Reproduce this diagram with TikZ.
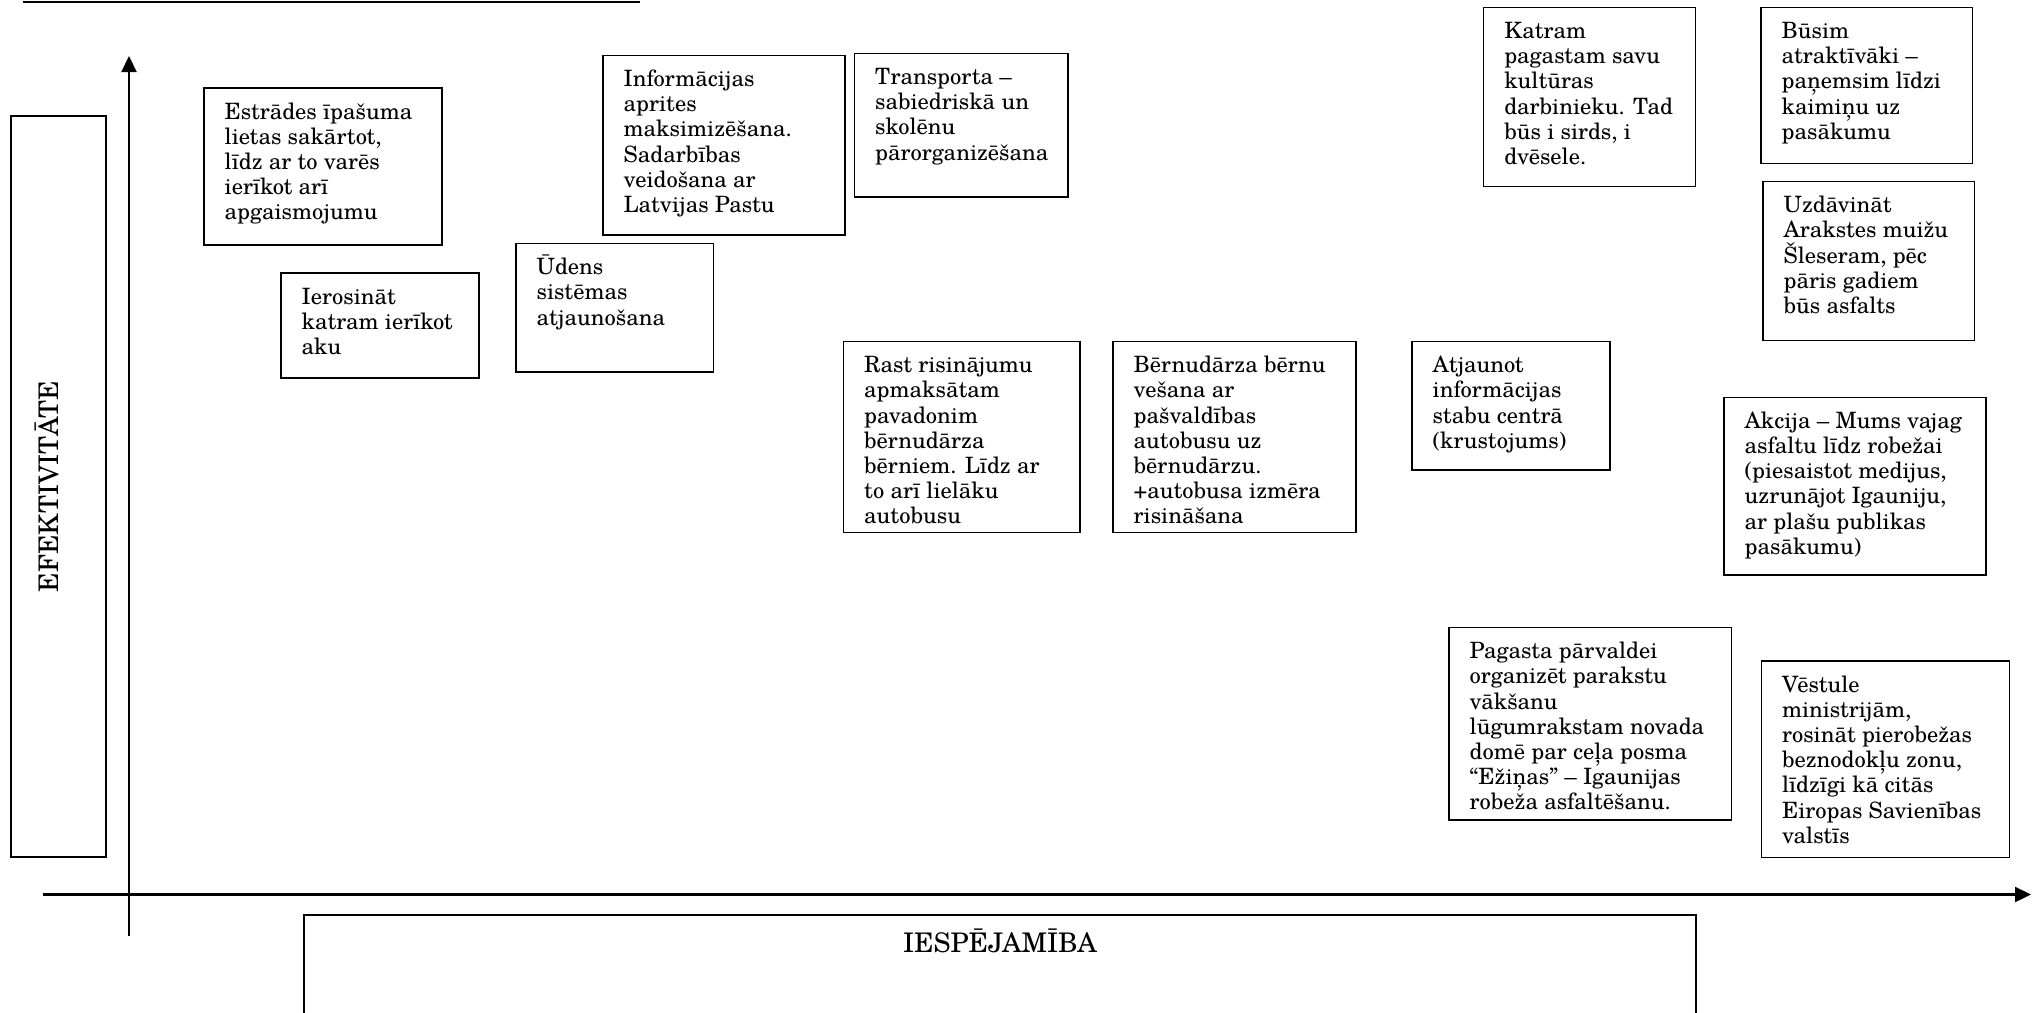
\documentclass[tikz,border=0pt]{standalone}
\usepackage{fontspec}
\setmainfont{TeX Gyre Schola}
\usetikzlibrary{arrows.meta}
\tikzset{
  boxst/.style={draw, line width=1.3pt, inner sep=0pt, outer sep=0pt, anchor=north west},
  txt/.style={anchor=base west, inner sep=0pt, font=\fontsize{22.5}{25.2}\selectfont},
  lbl/.style={anchor=base, inner sep=0pt, font=\fontsize{27}{30}\selectfont},
  axis/.style={line width=2.2pt, -{Triangle[length=16pt,width=15pt]}}
}
\newcommand{\lines}[1]{\parbox[t]{400pt}{\raggedright #1}}
\begin{document}
\begin{tikzpicture}[x=1pt,y=-1pt]
\useasboundingbox (0,0) rectangle (2033,1012);
\clip (0,0) rectangle (2033,1012);
% top underline (clipped heading)
\coordinate (tl) at (23,2.2);
\coordinate (tr) at (640,2.2);
\draw[line width=2.4pt] (tl) -- (tr);
% axes
\coordinate (yb) at (129,936);
\coordinate (yt) at (129,56);
\coordinate (xl) at (43,894.5);
\coordinate (xr) at (2031,894.5);
\draw[axis] (yb) -- (yt);
\draw[axis] (xl) -- (xr);
% axis label boxes
\node[boxst, minimum width=95pt, minimum height=741pt] (efek) at (11,116) {};
\node[lbl, rotate=90] (efekl) at (58,486.5) {EFEKTIVITĀTE};
\node[boxst, minimum width=1392pt, minimum height=140pt] (iesp) at (304,915) {};
\node[lbl] (iespl) at (1000,952) {IESPĒJAMĪBA};
% idea boxes
\node[boxst, minimum width=238pt, minimum height=157pt] (est) at (204,88) {};
\node[txt] (estt) at (224.5,119) {\lines{Estrādes īpašuma\\lietas sakārtot,\\līdz ar to varēs\\ierīkot arī\\apgaismojumu}};
\node[boxst, minimum width=198pt, minimum height=105pt] (ier) at (281,273) {};
\node[txt] (iert) at (301.5,304) {\lines{Ierosināt\\katram ierīkot\\aku}};
\node[boxst, minimum width=242pt, minimum height=179.5pt] (inf) at (603,55.5) {};
\node[txt] (inft) at (623.5,86.5) {\lines{Informācijas\\aprites\\maksimizēšana.\\Sadarbības\\veidošana ar\\Latvijas Pastu}};
\node[boxst, minimum width=197.5pt, minimum height=128.3pt] (ude) at (516,243.7) {};
\node[txt] (udet) at (536.5,274.7) {\lines{Ūdens\\sistēmas\\atjaunošana}};
\node[boxst, minimum width=213.5pt, minimum height=143.5pt] (tra) at (854.5,53.5) {};
\node[txt] (trat) at (875,84.5) {\lines{Transporta –\\sabiedriskā un\\skolēnu\\pārorganizēšana}};
\node[boxst, minimum width=212pt, minimum height=179.2pt] (kat) at (1483.6,7.5) {};
\node[txt] (katt) at (1504.1,38.5) {\lines{Katram\\pagastam savu\\kultūras\\darbinieku. Tad\\būs i sirds, i\\dvēsele.}};
\node[boxst, minimum width=211.5pt, minimum height=155.8pt] (bus) at (1761,7.5) {};
\node[txt] (bust) at (1781.5,38.5) {\lines{Būsim\\atraktīvāki –\\paņemsim līdzi\\kaimiņu uz\\pasākumu}};
\node[boxst, minimum width=211.5pt, minimum height=159pt] (uzd) at (1763,181.7) {};
\node[txt] (uzdt) at (1783.5,212.7) {\lines{Uzdāvināt\\Arakstes muižu\\Šleseram, pēc\\pāris gadiem\\būs asfalts}};
\node[boxst, minimum width=236.5pt, minimum height=191pt] (rast) at (843.5,341.7) {};
\node[txt] (rastt) at (864,372.7) {\lines{Rast risinājumu\\apmaksātam\\pavadonim\\bērnudārza\\bērniem. Līdz ar\\to arī lielāku\\autobusu}};
\node[boxst, minimum width=243pt, minimum height=191pt] (ber) at (1113,341.7) {};
\node[txt] (bert) at (1133.5,372.7) {\lines{Bērnudārza bērnu\\vešana ar\\pašvaldības\\autobusu uz\\bērnudārzu.\\+autobusa izmēra\\risināšana}};
\node[boxst, minimum width=198pt, minimum height=128.3pt] (atj) at (1412,341.7) {};
\node[txt] (atjt) at (1432.5,372.7) {\lines{Atjaunot\\informācijas\\stabu centrā\\(krustojums)}};
\node[boxst, minimum width=262pt, minimum height=177.7pt] (akc) at (1724,397.3) {};
\node[txt] (akct) at (1744.5,428.3) {\lines{Akcija – Mums vajag\\asfaltu līdz robežai\\(piesaistot medijus,\\uzrunājot Igauniju,\\ar plašu publikas\\pasākumu)}};
\node[boxst, minimum width=282.4pt, minimum height=192.3pt] (pag) at (1449,627.7) {};
\node[txt] (pagt) at (1469.5,658.7) {\lines{Pagasta pārvaldei\\organizēt parakstu\\vākšanu\\lūgumrakstam novada\\domē par ceļa posma\\“Ežiņas” – Igaunijas\\robeža asfaltēšanu.}};
\node[boxst, minimum width=248pt, minimum height=196.7pt] (ves) at (1761.3,661) {};
\node[txt] (vest) at (1781.8,692) {\lines{Vēstule\\ministrijām,\\rosināt pierobežas\\beznodokļu zonu,\\līdzīgi kā citās\\Eiropas Savienības\\valstīs}};
\end{tikzpicture}
\end{document}
